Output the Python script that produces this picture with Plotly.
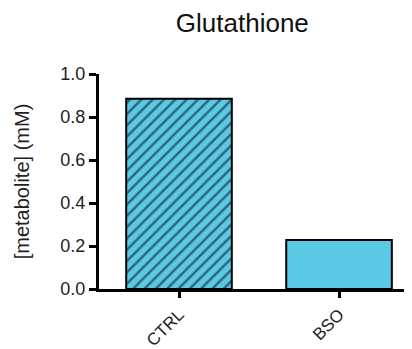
import plotly.graph_objects as go

categories = ["CTRL", "BSO"]
values = [0.885, 0.228]
patterns = ["/", ""]

fig = go.Figure()
fig.add_trace(go.Bar(
    x=categories, y=values, width=0.66,
    marker=dict(color="#5BC8E6", line=dict(color="black", width=2),
                pattern=dict(shape=patterns, fgcolor="black", bgcolor="#5BC8E6",
                             size=8, solidity=0.3, fillmode="overlay")),
))
# note: the page body has an 8px margin, so the figure is offset by (8, 8)
fig.update_layout(
    width=404, height=341,
    margin=dict(l=91, r=0, t=66, b=60, autoexpand=False),
    plot_bgcolor="white", paper_bgcolor="white",
    font=dict(family="Liberation Sans, Arial", color="#222", size=18),
    title=dict(text="Glutathione", x=0.58, xanchor="center", y=0.955, yanchor="middle",
               font=dict(size=26, color="#111")),
    showlegend=False,
)
fig.update_xaxes(range=[-0.5, 1.456], showline=True, linecolor="black", linewidth=3,
                 ticks="outside", ticklen=6, tickwidth=2.5, tickcolor="black",
                 tickangle=-45, tickfont=dict(size=17), showgrid=False, automargin=False)
fig.update_yaxes(range=[0, 1.0], showline=True, linecolor="black", linewidth=3,
                 ticks="outside", ticklen=7, tickwidth=2.5, tickcolor="black",
                 tickvals=[0, 0.2, 0.4, 0.6, 0.8, 1.0], tickformat=".1f",
                 showgrid=False, zeroline=False, automargin=False,
                 title=dict(text="[metabolite] (mM)", standoff=26, font=dict(size=20)))
fig.write_html("out.html")
